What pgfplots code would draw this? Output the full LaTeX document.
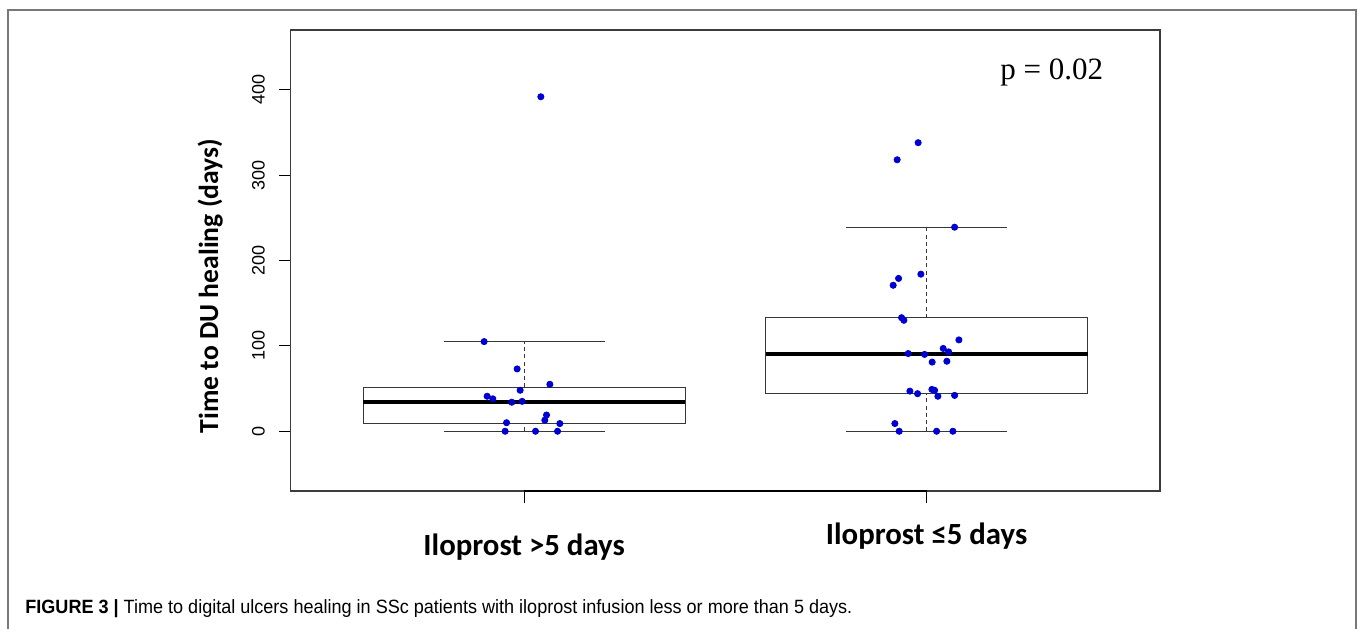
\documentclass[border=0pt]{standalone}
\usepackage{fontspec}
\setmainfont{Liberation Sans}
\newfontfamily\carlito{Carlito}
\newfontfamily\serifp{Liberation Serif}
\usepackage{pgfplots}
\pgfplotsset{compat=1.18}
\definecolor{ptblue}{RGB}{0,0,210}
\definecolor{framegray}{RGB}{60,60,60}
\definecolor{boxgray}{RGB}{55,55,55}
\definecolor{bordergray}{RGB}{120,120,120}

\pgfplotstableread{
x y
1.0415 391.8
0.9006 105
0.9826 73
1.0639 55
0.9901 48
0.9081 41
0.9222 38
0.9694 34
0.9950 35
1.0557 19
1.0514 13
0.9563 10
1.0887 9
0.9528 0
1.0283 0
1.0830 0
}\groupA

\pgfplotstableread{
x y
1.9791 338
1.9269 318
2.0696 239
1.9858 184
1.9304 179
1.9170 171
1.9379 133
1.9436 130
2.0803 107
2.0413 97
2.0547 93
1.9543 91
1.9950 90
2.0139 81
2.0504 82
1.9585 47
1.9776 44
2.0132 49
2.0199 48
2.0281 41
2.0696 42
1.9212 9
1.9319 0
2.0249 0
2.0654 0
}\groupB

\begin{document}
\begin{tikzpicture}[x=1pt,y=1pt]
\path[use as bounding box] (0,0) rectangle (679,314);
\draw[bordergray, line width=0.8pt] (4,-5) -- (4,309) -- (678,309) -- (678,-5);
\begin{axis}[
  at={(145.35pt,68.5pt)}, anchor=south west,
  scale only axis, width=434.65pt, height=230.5pt,
  xmin=0.42, xmax=2.58, ymin=-70, ymax=470,
  axis line style={framegray, line width=0.55pt},
  xtick={1,2},
  xticklabels={{Iloprost >5 days},{\raisebox{5.5pt}{Iloprost ≤5 days}}},
  ytick={0,100,200,300,400},
  tick align=outside, major tick length=5.8pt,
  xtick pos=bottom, ytick pos=left,
  tick style={black, line width=0.6pt},
  /pgf/number format/assume math mode=true,
  yticklabel style={rotate=90, anchor=south, inner sep=0pt, font=\fontsize{9}{9}\selectfont, yshift=7pt},
  xticklabel style={anchor=base, inner sep=0pt, font=\carlito\bfseries\fontsize{15.4}{16}\selectfont, yshift=-26.5pt},
  clip=false,
]
% box group 1
\addplot[boxgray, line width=0.6pt, line join=miter] coordinates {(0.6,9.5) (1.4,9.5) (1.4,51.5) (0.6,51.5) (0.6,9.5)};
\addplot[boxgray, line width=0.6pt, dash pattern=on 2pt off 1.6pt] coordinates {(1,51.5) (1,105)};
\addplot[boxgray, line width=0.6pt, dash pattern=on 2pt off 1.6pt] coordinates {(1,0) (1,9.5)};
\addplot[boxgray, line width=0.6pt] coordinates {(0.8,105) (1.2,105)};
\addplot[boxgray, line width=0.6pt] coordinates {(0.8,0) (1.2,0)};
\addplot[black, line width=2pt] coordinates {(0.6,34.5) (1.4,34.5)};
% box group 2
\addplot[boxgray, line width=0.6pt, line join=miter] coordinates {(1.6,44) (2.4,44) (2.4,133) (1.6,133) (1.6,44)};
\addplot[boxgray, line width=0.6pt, dash pattern=on 2pt off 1.6pt] coordinates {(2,133) (2,239)};
\addplot[boxgray, line width=0.6pt, dash pattern=on 2pt off 1.6pt] coordinates {(2,0) (2,44)};
\addplot[boxgray, line width=0.6pt] coordinates {(1.8,239) (2.2,239)};
\addplot[boxgray, line width=0.6pt] coordinates {(1.8,0) (2.2,0)};
\addplot[black, line width=2pt] coordinates {(1.6,90) (2.4,90)};
% axis segment between ticks
\addplot[black, line width=0.9pt] coordinates {(1,-70) (2,-70)};
% points
\addplot[only marks, mark=*, mark size=1.55pt, ptblue] table[x=x,y=y] {\groupA};
\addplot[only marks, mark=*, mark size=1.55pt, ptblue] table[x=x,y=y] {\groupB};
\end{axis}
\node[rotate=90, anchor=base, inner sep=0pt, font=\carlito\bfseries\fontsize{13.8}{14}\selectfont] at (109,171) {Time to DU healing (days)};
\node[anchor=base west, inner sep=0pt, font=\serifp\fontsize{15.5}{16}\selectfont] at (500,274.35) {p = 0.02};
\node[anchor=base west, inner sep=0pt] at (12.5,7.5) {\scalebox{0.94}[1]{\fontsize{9.6}{10}\selectfont\textbf{FIGURE 3 |} Time to digital ulcers healing in SSc patients with iloprost infusion less or more than 5 days.}};
\end{tikzpicture}
\end{document}
